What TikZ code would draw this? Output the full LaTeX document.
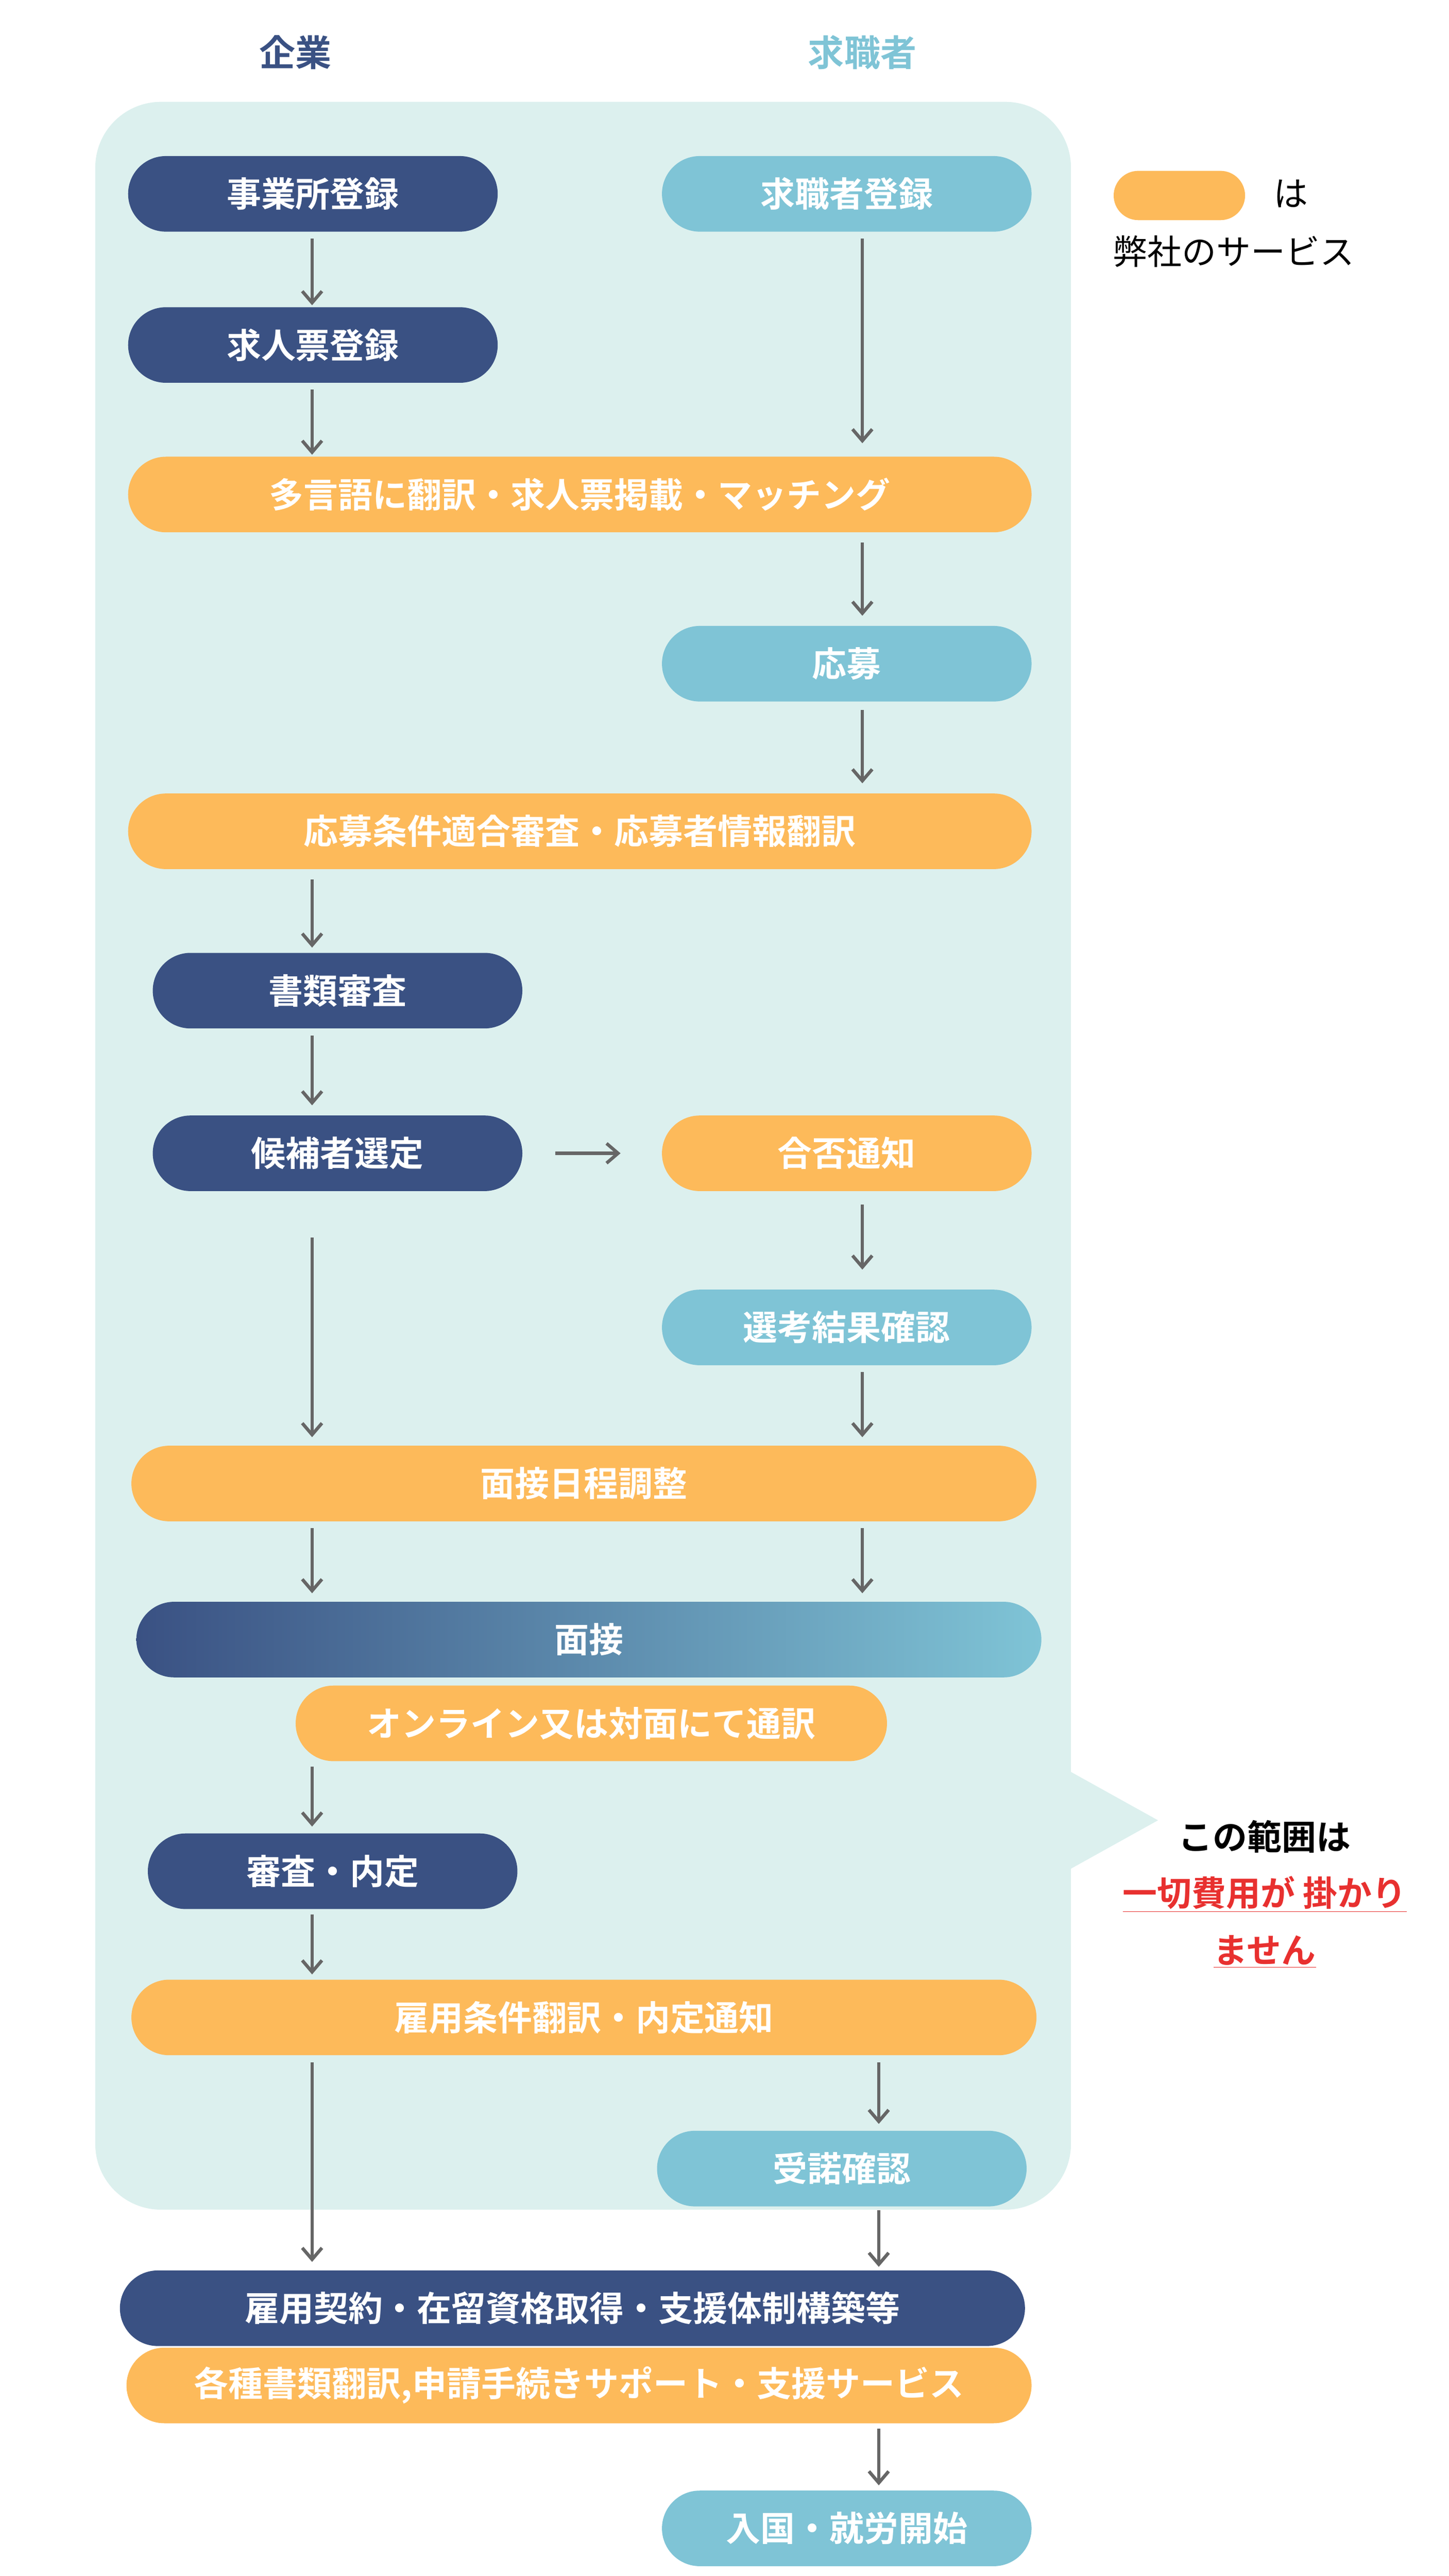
\documentclass[tikz,border=0pt]{standalone}
\usepackage{fontspec}
\setmainfont{Noto Sans CJK JP}[BoldFont={* Bold}]
\usetikzlibrary{arrows.meta}
\definecolor{kdark}{HTML}{3A5183}
\definecolor{klight}{HTML}{7FC4D6}
\definecolor{korange}{HTML}{FDBA5A}
\definecolor{kpanel}{HTML}{DCF0EE}
\definecolor{kgray}{HTML}{666666}
\definecolor{kred}{HTML}{E8302F}
\begin{document}
\begin{tikzpicture}[x=1pt,y=-1pt,
    pill/.style={rectangle,rounded corners=23pt,minimum height=46pt,inner sep=0pt,
      text=white,font=\fontsize{21}{25}\selectfont\bfseries},
    dark/.style={pill,fill=kdark},
    light/.style={pill,fill=klight},
    orange/.style={pill,fill=korange},
    arr/.style={draw=kgray,line width=2pt,-{Straight Barb[length=7pt,width=12pt]}}]
  \useasboundingbox (0,0) rectangle (882,1568);
  % panel with pointer
  \fill[kpanel,rounded corners=40pt] (58,62) rectangle (652,1345);
  \fill[kpanel] (651,1078) -- (705,1108) -- (651,1138) -- cycle;
  % headers
  \node[text=kdark,font=\fontsize{22}{26}\selectfont\bfseries] (h1) at (180,32) {企業};
  \node[text=klight,font=\fontsize{22}{26}\selectfont\bfseries] (h2) at (525,32) {求職者};
  % legend
  \node[orange,minimum width=80pt,minimum height=30pt,rounded corners=15pt] (lg) at (718,119) {};
  \node[font=\fontsize{21}{25}\selectfont] (lg1) at (786,118) {は};
  \node[font=\fontsize{21}{25}\selectfont] (lg2) at (751,153) {弊社のサービス};
  % pills
  \node[dark,minimum width=225pt] (jg) at (190.5,118) {事業所登録};
  \node[light,minimum width=225pt] (ks) at (515.5,118) {求職者登録};
  \node[dark,minimum width=225pt] (kj) at (190.5,210) {求人票登録};
  \node[orange,minimum width=550pt] (tg) at (353,301) {多言語に翻訳・求人票掲載・マッチング};
  \node[light,minimum width=225pt] (ob) at (515.5,404) {応募};
  \node[orange,minimum width=550pt] (os) at (353,506) {応募条件適合審査・応募者情報翻訳};
  \node[dark,minimum width=225pt] (sr) at (205.5,603) {書類審査};
  \node[dark,minimum width=225pt] (ko) at (205.5,702) {候補者選定};
  \node[orange,minimum width=225pt] (gh) at (515.5,702) {合否通知};
  \node[light,minimum width=225pt] (sk) at (515.5,808) {選考結果確認};
  \node[orange,minimum width=551pt] (mn) at (355.5,903) {面接日程調整};
  \node[pill,minimum width=551pt,left color=kdark,right color=klight] (ms) at (358.5,998) {面接};
  \node[orange,minimum width=360pt] (tu) at (360,1049) {オンライン又は対面にて通訳};
  \node[dark,minimum width=225pt] (nt) at (202.5,1139) {審査・内定};
  \node[orange,minimum width=551pt] (kt) at (355.5,1228) {雇用条件翻訳・内定通知};
  \node[light,minimum width=225pt] (jd) at (512.5,1320) {受諾確認};
  \node[dark,minimum width=551pt] (kk) at (348.5,1405) {雇用契約・在留資格取得・支援体制構築等};
  \node[orange,minimum width=551pt] (ss) at (352.5,1452) {各種書類翻訳,申請手続きサポート・支援サービス};
  \node[light,minimum width=225pt] (nk) at (515.5,1539) {入国・就労開始};
  % note
  \node[font=\fontsize{21}{25}\selectfont\bfseries] (n1) at (770,1118) {この範囲は};
  \node[text=kred,font=\fontsize{21}{25}\selectfont\bfseries] (n2) at (770,1153) {\underline{一切費用が 掛かり}};
  \node[text=kred,font=\fontsize{21}{25}\selectfont\bfseries] (n3) at (770,1188) {\underline{ません}};
  % columns for arrows
  \coordinate (cL) at (190,0);
  \coordinate (cR) at (525,0);
  \coordinate (cS) at (535,0);
  % arrows
  \draw[arr,shorten <=4pt,shorten >=1pt] (jg.south -| cL) -- (kj.north -| cL);
  \draw[arr,shorten <=4pt,shorten >=1pt] (kj.south -| cL) -- (tg.north -| cL);
  \draw[arr,shorten <=4pt,shorten >=8pt] (ks.south -| cR) -- (tg.north -| cR);
  \draw[arr,shorten <=6pt,shorten >=6pt] (tg.south -| cR) -- (ob.north -| cR);
  \draw[arr,shorten <=5pt,shorten >=6pt] (ob.south -| cR) -- (os.north -| cR);
  \draw[arr,shorten <=6pt,shorten >=3pt] (os.south -| cL) -- (sr.north -| cL);
  \draw[arr,shorten <=4pt,shorten >=6pt] (sr.south -| cL) -- (ko.north -| cL);
  \draw[arr,shorten <=20pt,shorten >=25pt] (ko.east) -- (gh.west);
  \draw[arr,shorten <=8pt,shorten >=12pt] (gh.south -| cR) -- (sk.north -| cR);
  \draw[arr,shorten <=28pt,shorten >=5pt] (ko.south -| cL) -- (mn.north -| cL);
  \draw[arr,shorten <=4pt,shorten >=5pt] (sk.south -| cR) -- (mn.north -| cR);
  \draw[arr,shorten <=4pt,shorten >=5pt] (mn.south -| cL) -- (ms.north -| cL);
  \draw[arr,shorten <=4pt,shorten >=5pt] (mn.south -| cR) -- (ms.north -| cR);
  \draw[arr,shorten <=3pt,shorten >=4pt] (tu.south -| cL) -- (nt.north -| cL);
  \draw[arr,shorten <=3pt,shorten >=3pt] (nt.south -| cL) -- (kt.north -| cL);
  \draw[arr,shorten <=4pt,shorten >=4pt] (kt.south -| cS) -- (jd.north -| cS);
  \draw[arr,shorten <=4pt,shorten >=5pt] (kt.south -| cL) -- (kk.north -| cL);
  \draw[arr,shorten <=2pt,shorten >=2pt] (jd.south -| cS) -- (kk.north -| cS);
  \draw[arr,shorten <=3pt,shorten >=3pt] (ss.south -| cS) -- (nk.north -| cS);
\end{tikzpicture}
\end{document}
